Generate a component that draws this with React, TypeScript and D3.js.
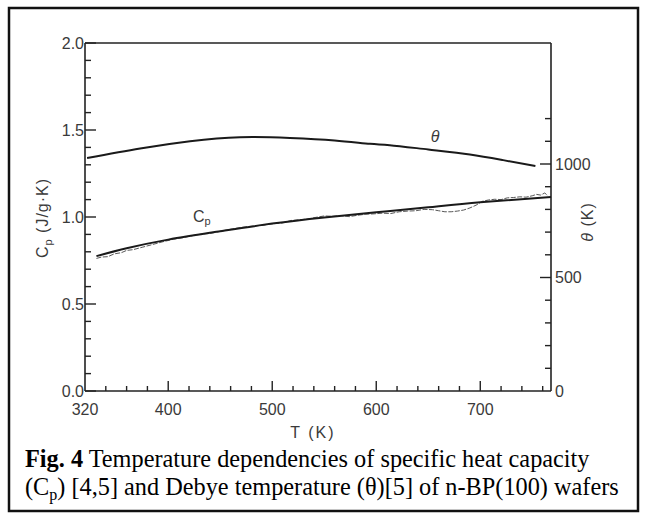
import React from "react";
import * as d3 from "d3";

// ---- data ----
const thetaT = [322, 373, 421, 469, 517, 560, 594, 613, 650, 690, 722, 753];
const thetaK = [1026, 1068, 1100, 1118, 1115, 1104, 1089, 1083, 1064, 1042, 1017, 991];

const cpFitT = [331, 360, 400, 450, 500, 550, 600, 650, 700, 768];
const cpFitV = [0.775, 0.82, 0.87, 0.918, 0.962, 0.997, 1.027, 1.056, 1.085, 1.115];

const cpMeasT = [331, 336, 342, 348, 355, 360, 366, 375, 385, 395, 405, 415, 425, 432, 440, 448, 456, 462, 470, 478, 486, 494, 502, 510, 518, 526, 534, 542, 550, 558, 566, 574, 582, 590, 598, 606, 614, 622, 630, 638, 646, 654, 660, 666, 672, 678, 684, 690, 696, 702, 708, 714, 720, 726, 732, 738, 744, 750, 754, 758, 762, 765];
const cpMeasV = [0.762, 0.77, 0.772, 0.788, 0.795, 0.808, 0.812, 0.826, 0.842, 0.858, 0.872, 0.882, 0.895, 0.902, 0.905, 0.915, 0.925, 0.932, 0.94, 0.946, 0.95, 0.956, 0.962, 0.966, 0.98, 0.984, 0.988, 0.998, 1.006, 1.004, 1.008, 1.002, 1.01, 1.016, 1.018, 1.022, 1.02, 1.03, 1.034, 1.036, 1.044, 1.042, 1.036, 1.03, 1.03, 1.034, 1.04, 1.052, 1.068, 1.09, 1.098, 1.102, 1.1, 1.11, 1.112, 1.116, 1.114, 1.122, 1.13, 1.126, 1.138, 1.122];

const xTickLabels = [320, 400, 500, 600, 700];
const leftTickLabels = [0, 0.5, 1.0, 1.5, 2.0];
const rightTickLabels = [0, 500, 1000];

const captionLine1Bold = "Fig. 4";
const captionLine1 = " Temperature dependencies of specific heat capacity";

export default function App() {
  const W = 647, H = 517;
  const x = d3.scaleLinear().domain([320, 768]).range([85, 551]);
  const yL = d3.scaleLinear().domain([0, 2]).range([391, 43]);
  const yR = d3.scaleLinear().domain([0, 1000]).range([391, 164]);

  const thetaLine = d3.line<number>().x((_, i) => x(thetaT[i])).y((d) => yR(d)).curve(d3.curveNatural);
  const cpFitLine = d3.line<number>().x((_, i) => x(cpFitT[i])).y((d) => yL(d)).curve(d3.curveNatural);
  const cpMeasLine = d3.line<number>().x((_, i) => x(cpMeasT[i])).y((d) => yL(d)).curve(d3.curveLinear);

  const xTicks = d3.range(340, 768, 20);
  const lTicks = d3.range(0, 2.0001, 0.1);
  const rTicks = d3.range(100, 1201, 100);
  const axisColor = "#222";
  const font = "'Liberation Sans', Arial, sans-serif";
  const x0 = x.range()[0], x1 = x.range()[1];
  const yb = yL.range()[0], yt = yL.range()[1];

  return (
    <svg width={W} height={H} style={{ position: "absolute", left: 0, top: 0, background: "#fff" }}>
      <rect x={0} y={0} width={W} height={H} fill="#fff" />
      {/* outer frame */}
      <rect x={9} y={8} width={629} height={503} fill="none" stroke="#111" strokeWidth={2.5} />

      {/* plot box */}
      <line x1={x0} x2={x0} y1={yt} y2={yb} stroke={axisColor} strokeWidth={1.6} />
      <line x1={x1} x2={x1} y1={yt} y2={yb} stroke={axisColor} strokeWidth={1.6} />
      <line x1={x0} x2={x1} y1={yb} y2={yb} stroke={axisColor} strokeWidth={1.6} />
      <line x1={x0} x2={x1} y1={yt} y2={yt} stroke={axisColor} strokeWidth={1.6} />

      {/* bottom ticks */}
      {xTicks.map((t) => {
        const major = t % 100 === 0;
        return <line key={"xt" + t} x1={x(t)} x2={x(t)} y1={yb} y2={yb - (major ? 10 : 5)} stroke={axisColor} strokeWidth={1.4} />;
      })}
      {/* left ticks */}
      {lTicks.map((v, i) => {
        const major = i % 5 === 0;
        return <line key={"lt" + i} x1={x0} x2={x0 + (major ? 11 : 6)} y1={yL(v)} y2={yL(v)} stroke={axisColor} strokeWidth={1.4} />;
      })}
      {/* right ticks */}
      {rTicks.map((v) => {
        const major = v % 500 === 0;
        return <line key={"rt" + v} x1={x1} x2={x1 - (major ? 11 : 6)} y1={yR(v)} y2={yR(v)} stroke={axisColor} strokeWidth={1.4} />;
      })}

      {/* tick labels */}
      <g fontFamily={font} fontSize={16} fill="#3a3a3a">
        {xTickLabels.map((t) => (
          <text key={"xl" + t} x={x(t)} y={415} textAnchor="middle">{t}</text>
        ))}
        {leftTickLabels.map((v) => (
          <text key={"ll" + v} x={x0 - 1} y={yL(v)} dy="0.36em" textAnchor="end">{v.toFixed(1)}</text>
        ))}
        {rightTickLabels.map((v) => (
          <text key={"rl" + v} x={x1 + 4} y={yR(v)} dy="0.36em" textAnchor="start">{v}</text>
        ))}
        <text x={313} y={438} textAnchor="middle" letterSpacing={2}>T (K)</text>
        <text transform="translate(48,218) rotate(-90)" textAnchor="middle" letterSpacing={1}>
          C<tspan fontSize={11} dy={4}>p</tspan><tspan dy={-4}> (J/g·K)</tspan>
        </text>
        <text transform="translate(593,222) rotate(-90)" textAnchor="middle" letterSpacing={1}>
          <tspan fontStyle="italic">θ</tspan> (K)
        </text>
        <text x={435} y={142} textAnchor="middle" fontStyle="italic">θ</text>
        <text x={193} y={222}>C<tspan fontSize={11} dy={3}>p</tspan></text>
      </g>

      {/* curves */}
      <path d={cpMeasLine(cpMeasV) || ""} fill="none" stroke="#444" strokeWidth={0.9} strokeDasharray="5 1.5" />
      <path d={thetaLine(thetaK) || ""} fill="none" stroke="#1a1a1a" strokeWidth={2} />
      <path d={cpFitLine(cpFitV) || ""} fill="none" stroke="#1a1a1a" strokeWidth={2} />

      {/* caption */}
      <g fontFamily="'Liberation Serif', 'Times New Roman', serif" fontSize={24.3} fill="#000">
        <text x={25} y={467}>
          <tspan fontWeight="bold">{captionLine1Bold}</tspan>
          <tspan>{captionLine1}</tspan>
        </text>
        <text x={25} y={495}>
          (C<tspan fontSize={16} dy={5}>p</tspan><tspan dy={-5}>) [4,5] and Debye temperature (θ)[5] of n-BP(100) wafers</tspan>
        </text>
      </g>
    </svg>
  );
}
